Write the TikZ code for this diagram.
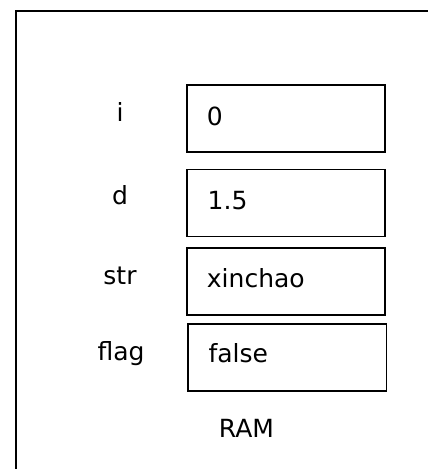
\documentclass[tikz,border=0pt]{standalone}
\usepackage{fontspec}
\setmainfont{DejaVu Sans}
\begin{document}
\begin{tikzpicture}[x=1pt,y=-1pt,
  cell/.style={draw=black,line width=1.8pt,inner sep=0pt,anchor=north west},
  val/.style={anchor=base west,inner sep=0pt,font=\fontsize{25}{28}\selectfont},
  varlabel/.style={anchor=base,inner sep=0pt,font=\fontsize{25}{28}\selectfont}]
\useasboundingbox (0,0) rectangle (428,469);
\clip (0,0) rectangle (428,469);
% frame, running off the right and bottom edges
\draw[line width=2.4pt] (16,480) -- (16,11) -- (440,11);
% memory cells
\node[cell,minimum width=198.5pt,minimum height=66.5pt] (c1) at (185.8,84.3) {};
\node[cell,minimum width=198.5pt,minimum height=67pt] (c2) at (185.8,168.6) {};
\node[cell,minimum width=198.5pt,minimum height=67pt] (c3) at (185.8,247) {};
\node[cell,minimum width=198.5pt,minimum height=67pt] (c4) at (187,323) {};
% stored values
\node[val] (v1) at (206.7,125) {0};
\node[val] (v2) at (207.5,209) {1.5};
\node[val] (v3) at (206.7,287.3) {xinchao};
\node[val] (v4) at (208.3,362.5) {false};
% variable names
\node[varlabel] (n1) at (120,121.7) {i};
\node[varlabel] (n2) at (120,204) {d};
\node[varlabel] (n3) at (120,284) {str};
\node[varlabel] (n4) at (121,360) {flag};
\node[varlabel] (ram) at (246.5,437.3) {RAM};
\end{tikzpicture}
\end{document}
